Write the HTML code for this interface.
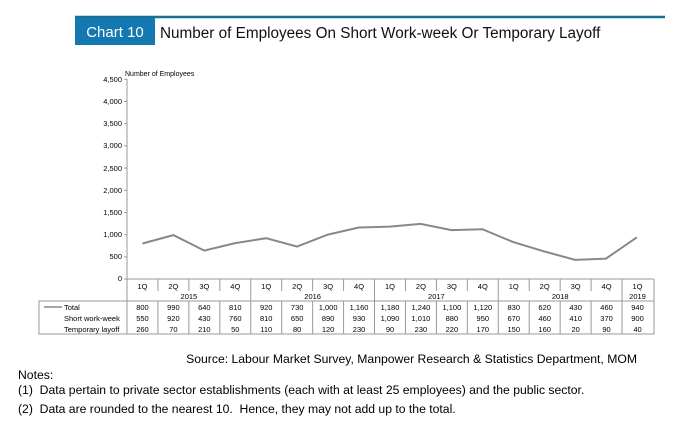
<!DOCTYPE html>
<html><head><style>
body{margin:0;background:#fff;font-family:"Liberation Sans",Arial,sans-serif;}
.w{position:relative;width:692px;height:432px;overflow:hidden}
</style></head><body><div class="w">
<svg width="692" height="432" style="position:absolute;left:0;top:0" font-family="Liberation Sans, Arial, sans-serif">
<line x1="75" y1="17" x2="665" y2="17" stroke="#1a6f96" stroke-width="2.5"/>
<rect x="75" y="18" width="80" height="27" fill="#1479b0"/>
<text x="115" y="37" font-size="15" fill="#fff" text-anchor="middle">Chart 10</text>
<text x="160" y="38" font-size="15.3" fill="#111">Number of Employees On Short Work-week Or Temporary Layoff</text>
<text x="125" y="76" font-size="7" fill="#000">Number of Employees</text>
<g font-size="7.5" fill="#000" text-anchor="end">
<text x="122" y="82">4,500</text><text x="122" y="104">4,000</text><text x="122" y="126">3,500</text><text x="122" y="148">3,000</text><text x="122" y="171">2,500</text><text x="122" y="193">2,000</text><text x="122" y="215">1,500</text><text x="122" y="237">1,000</text><text x="122" y="259">500</text><text x="122" y="281">0</text>
</g>
<g stroke="#999" stroke-width="1">
<line x1="127" y1="79" x2="127" y2="279"/>
<line x1="124" y1="79.3" x2="127" y2="79.3"/><line x1="124" y1="101.5" x2="127" y2="101.5"/><line x1="124" y1="123.7" x2="127" y2="123.7"/><line x1="124" y1="145.9" x2="127" y2="145.9"/><line x1="124" y1="168.1" x2="127" y2="168.1"/><line x1="124" y1="190.3" x2="127" y2="190.3"/><line x1="124" y1="212.5" x2="127" y2="212.5"/><line x1="124" y1="234.7" x2="127" y2="234.7"/><line x1="124" y1="256.9" x2="127" y2="256.9"/><line x1="124" y1="279" x2="654" y2="279"/>
</g>
<polyline fill="none" stroke="#888" stroke-width="2" points="142.5,243.5 173.4,235.1 204.3,250.6 235.2,243.1 266.1,238.2 297,246.6 327.9,234.6 358.8,227.5 389.7,226.6 420.6,223.9 451.5,230.1 482.4,229.2 513.3,242.1 544.2,251.4 575.1,259.9 606,258.6 636.9,237.3"/>
<g stroke="#999" stroke-width="1" fill="none">
<rect x="39" y="301" width="615" height="33"/>
<line x1="127" y1="279" x2="127" y2="334"/>
<line x1="654" y1="279" x2="654" y2="301"/>
</g>
</svg>
<script>
var s=document.querySelector('svg'),ns='http://www.w3.org/2000/svg';
function el(t,a,txt){var e=document.createElementNS(ns,t);for(var k in a)e.setAttribute(k,a[k]);if(txt)e.textContent=txt;s.appendChild(e);return e;}
var x0=127,cw=30.94;
var q=['1Q','2Q','3Q','4Q'];
var tot=[800,990,640,810,920,730,1000,1160,1180,1240,1100,1120,830,620,430,460,940];
var sw=[550,920,430,760,810,650,890,930,1090,1010,880,950,670,460,410,370,900];
var tl=[260,70,210,50,110,80,120,230,90,230,220,170,150,160,20,90,40];
function f(n){return n.toLocaleString('en-US');}
for(var i=0;i<17;i++){var cx=x0+cw*(i+0.5);
el('text',{x:cx,y:289,'font-size':7.5,'text-anchor':'middle'},q[i%4]);
el('text',{x:cx,y:310,'font-size':7.5,'text-anchor':'middle'},f(tot[i]));
el('text',{x:cx,y:321,'font-size':7.5,'text-anchor':'middle'},f(sw[i]));
el('text',{x:cx,y:332,'font-size':7.5,'text-anchor':'middle'},f(tl[i]));
if(i>0){var xx=x0+cw*i;var yb=(i%4==0)?334:291;el('line',{x1:xx,y1:279,x2:xx,y2:yb,stroke:'#999'});
if(i%4!=0)el('line',{x1:xx,y1:301,x2:xx,y2:334,stroke:'#999'});}}
var yrs=['2015','2016','2017','2018'];
for(var j=0;j<4;j++)el('text',{x:x0+cw*(4*j+2),y:299,'font-size':7.5,'text-anchor':'middle'},yrs[j]);
el('text',{x:x0+cw*16.5,y:299,'font-size':7.5,'text-anchor':'middle'},'2019');
el('line',{x1:44,y1:307,x2:62,y2:307,stroke:'#888','stroke-width':1.5});
el('text',{x:64,y:310,'font-size':7.5},'Total');
el('text',{x:64,y:321,'font-size':7.5},'Short work-week');
el('text',{x:64,y:332,'font-size':7.5},'Temporary layoff');
el('text',{x:637,y:363,'font-size':12.2,'text-anchor':'end'},'Source: Labour Market Survey, Manpower Research & Statistics Department, MOM');
el('text',{x:18,y:379,'font-size':12.2},'Notes:');
el('text',{x:18,y:394,'font-size':12.2,style:'white-space:pre'},'(1)  Data pertain to private sector establishments (each with at least 25 employees) and the public sector.');
el('text',{x:18,y:413,'font-size':12.2,style:'white-space:pre'},'(2)  Data are rounded to the nearest 10.  Hence, they may not add up to the total.');
</script>
</div></body></html>
